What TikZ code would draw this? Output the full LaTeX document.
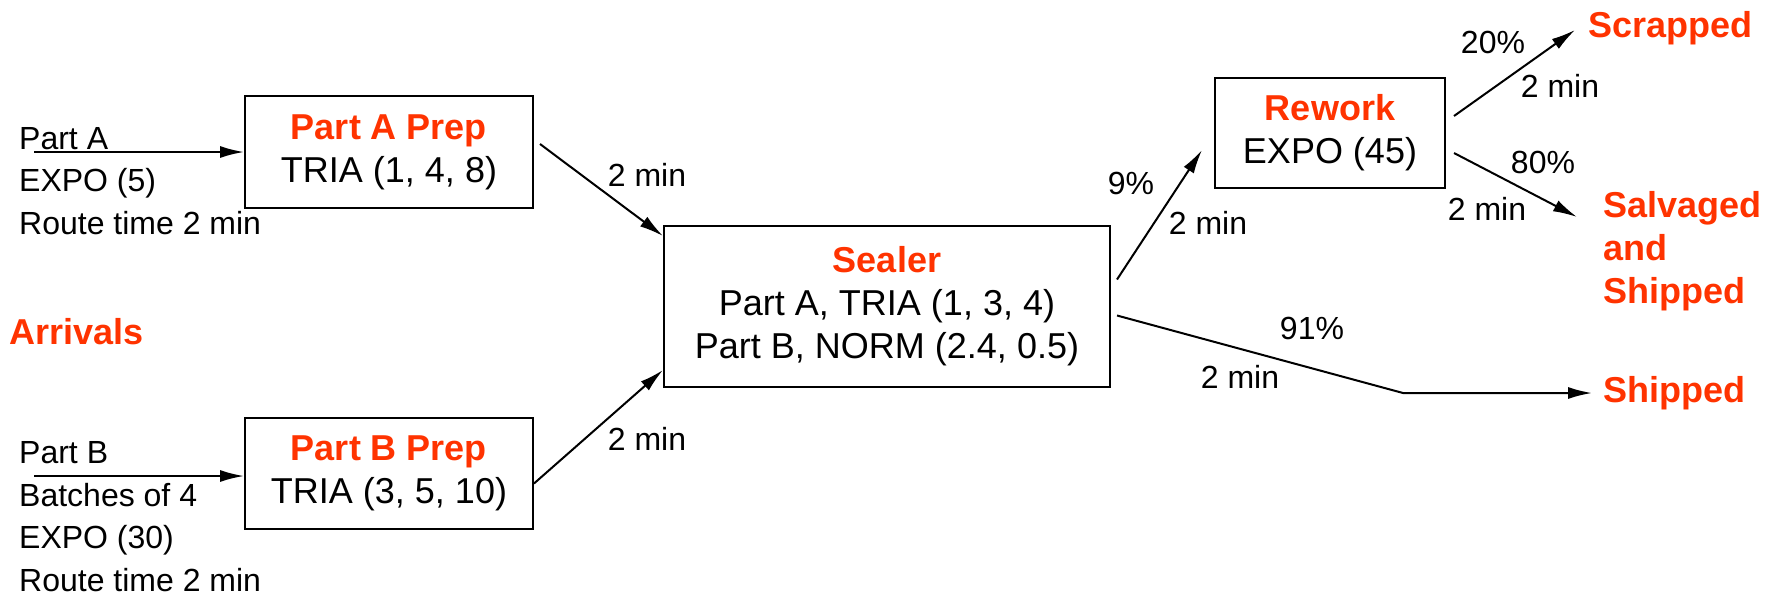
\documentclass[tikz,border=0pt]{standalone}
\usepackage{fontspec}
\setmainfont{Liberation Sans}
\usetikzlibrary{arrows.meta}
\definecolor{accent}{RGB}{255,51,0}
\begin{document}
\begin{tikzpicture}[x=1pt,y=-1pt,
  station/.style={draw, line width=2pt, align=center, inner sep=0pt,
    font=\fontsize{36}{43}\selectfont},
  title/.style={text=accent, inner sep=0pt, font=\bfseries\fontsize{36}{43}\selectfont},
  note/.style={inner sep=0pt, font=\fontsize{32}{42.5}\selectfont},
  flow/.style={line width=2pt, -{Latex[length=24pt,width=12pt]}},
]
\useasboundingbox (0,0) rectangle (1773,595);

% workstations
\node[station, minimum width=288pt, minimum height=112pt] (prepA) at (389,152)
  {{\color{accent}\bfseries Part A Prep}\\TRIA (1, 4, 8)};
\node[station, minimum width=288pt, minimum height=111pt] (prepB) at (389,473.5)
  {{\color{accent}\bfseries Part B Prep}\\TRIA (3, 5, 10)};
\node[station, minimum width=446pt, minimum height=161pt] (sealer) at (887,306.5)
  {{\color{accent}\bfseries Sealer}\\Part A, TRIA (1, 3, 4)\\Part B, NORM (2.4, 0.5)};
\node[station, minimum width=230pt, minimum height=110pt] (rework) at (1330,133)
  {{\color{accent}\bfseries Rework}\\EXPO (45)};

% arrivals
\node[title, anchor=west] (arrivals) at (9,332) {Arrivals};
\node[note, align=left, anchor=west] (srcA) at (19,181) {Part A\\EXPO (5)\\Route time 2 min};
\node[note, align=left, anchor=west] (srcB) at (19,516.5) {Part B\\Batches of 4\\EXPO (30)\\Route time 2 min};
\coordinate (inA) at (34,152);
\coordinate (inB) at (34,476);

% exits
\node[title, anchor=west] (scrap) at (1588,28) {Scrapped};
\node[title, anchor=west, align=left] (salv) at (1603,251) {Salvaged\\and\\Shipped};
\node[title, anchor=west] (ship) at (1603,393) {Shipped};
\coordinate (bend) at (1403,393);

% connectors
\draw[flow] (inA) -- (inA -| prepA.west);
\draw[flow] (inB) -- (inB -| prepB.west);
\draw[flow] ([shift={(6,-8)}]prepA.east) -- ([shift={(0,11)}]sealer.north west);
\draw[flow] ([shift={(0,10)}]prepB.east) -- ([shift={(0,-18)}]sealer.south west);
\draw[flow] ([shift={(6,-27)}]sealer.east) -- ([shift={(-12,17)}]rework.west);
\draw[flow] ([shift={(6,9)}]sealer.east) -- (bend) -- ([shift={(-11,0)}]ship.west);
\draw[flow] ([shift={(8,-17)}]rework.east) -- ([shift={(-13,2)}]scrap.west);
\draw[flow] ([shift={(8,20)}]rework.east) -- ([shift={(-26,-34)}]salv.west);

% route labels
\node[note] (tA) at (647,175) {2 min};
\node[note] (tB) at (647,439) {2 min};
\node[note] (pRw) at (1131,183) {9\%};
\node[note] (tRw) at (1208,223) {2 min};
\node[note] (pSh) at (1312,328) {91\%};
\node[note] (tSh) at (1240,377) {2 min};
\node[note] (pSc) at (1493,42) {20\%};
\node[note] (tSc) at (1560,86) {2 min};
\node[note] (pSv) at (1543,162) {80\%};
\node[note] (tSv) at (1487,209) {2 min};
\end{tikzpicture}
\end{document}
